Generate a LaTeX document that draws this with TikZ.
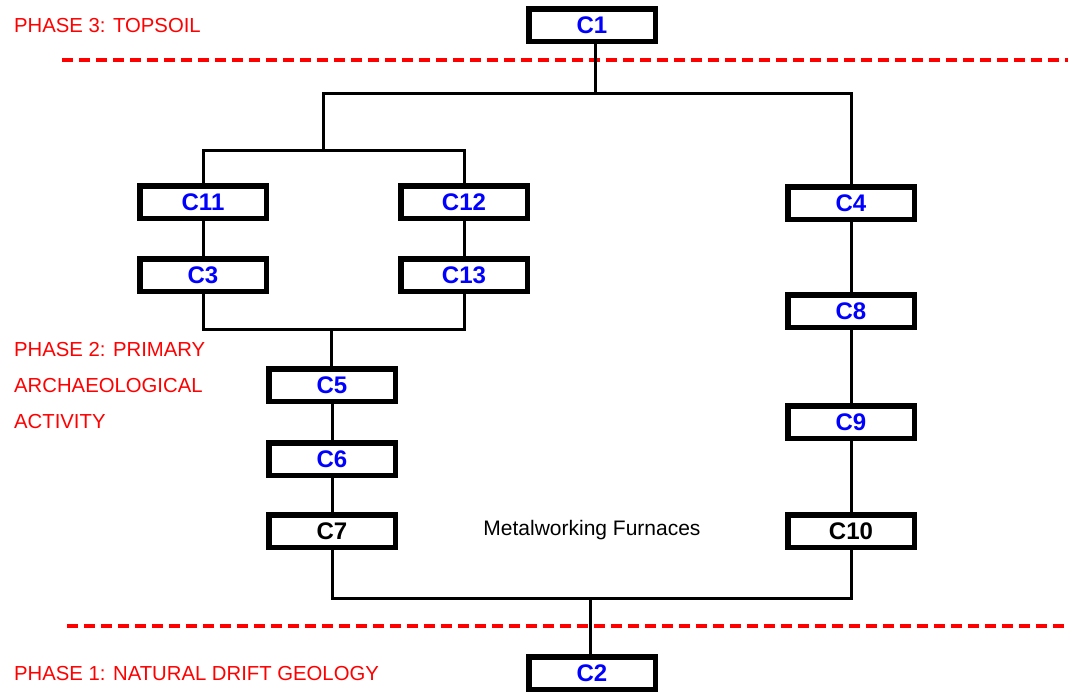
\documentclass[tikz,border=0pt]{standalone}
\usepackage{fontspec}
\setmainfont{Liberation Sans}
\usepackage{tikz}
\definecolor{phasered}{RGB}{255,0,0}
\definecolor{ctxblue}{RGB}{0,0,255}

\begin{document}
\begin{tikzpicture}[x=1pt,y=-1pt,
	ctx/.style={draw=black,line width=5.5pt,minimum width=126.5pt,minimum height=32.5pt,
	inner sep=0pt,font=\fontsize{24}{28}\selectfont\bfseries,text=ctxblue},
	ctxblack/.style={ctx,text=black},
	phase/.style={anchor=west,inner sep=0pt,text=phasered,font=\fontsize{20.3}{36}\selectfont},
	link/.style={line width=3pt,line cap=rect},
	divide/.style={draw=phasered,line width=3.5pt,dash pattern=on 11pt off 6pt}]
	\useasboundingbox (0,0) rectangle (1068,697);
	% phase boundaries
	\draw[divide] (62,60) -- (1068,60);
	\draw[divide] (67,626) -- (1068,626);
	\node[phase] (p3) at (14,26) {PHASE 3: TOPSOIL};
	\node[phase,anchor=north west,align=left] (p2) at (14,342) {PHASE 2: PRIMARY\\ARCHAEOLOGICAL\\ACTIVITY};
	\node[phase] (p1) at (14,673) {PHASE 1: NATURAL DRIFT GEOLOGY};
	% contexts
	\node[ctx] (C1) at (592,25) {C1};
	\node[ctx] (C11) at (203,202) {C11};
	\node[ctx] (C12) at (464,202) {C12};
	\node[ctx] (C4) at (851,203) {C4};
	\node[ctx] (C3) at (203,275) {C3};
	\node[ctx] (C13) at (464,275) {C13};
	\node[ctx] (C8) at (851,311) {C8};
	\node[ctx] (C5) at (332,385) {C5};
	\node[ctx] (C9) at (851,422) {C9};
	\node[ctx] (C6) at (332,459) {C6};
	\node[ctxblack] (C7) at (332,531) {C7};
	\node[ctxblack] (C10) at (851,531) {C10};
	\node[ctx] (C2) at (592,673) {C2};
	\node[font=\fontsize{21}{24}\selectfont] (furn) at (592,530) {Metalworking Furnaces};
	% junctions
	\coordinate (j1) at (595,93);
	\coordinate (j2) at (323,150);
	\coordinate (j3) at (331,329);
	\coordinate (j4) at (590,598);
	\draw[link] (C1.south -| j1) -- (j1);
	\draw[link] (j2) |- (j1) -| (C4.north);
	\draw[link] (C11.north) |- (j2) -| (C12.north);
	\draw[link] (C11) -- (C3);
	\draw[link] (C12) -- (C13);
	\draw[link] (C3.south) |- (j3) -| (C13.south);
	\draw[link] (j3) -- (C5.north -| j3);
	\draw[link] (C5) -- (C6);
	\draw[link] (C6) -- (C7);
	\draw[link] (C4) -- (C8);
	\draw[link] (C8) -- (C9);
	\draw[link] (C9) -- (C10);
	\draw[link] (C7.south) |- (j4) -| (C10.south);
	\draw[link] (j4) -- (C2.north -| j4);
\end{tikzpicture}
\end{document}
